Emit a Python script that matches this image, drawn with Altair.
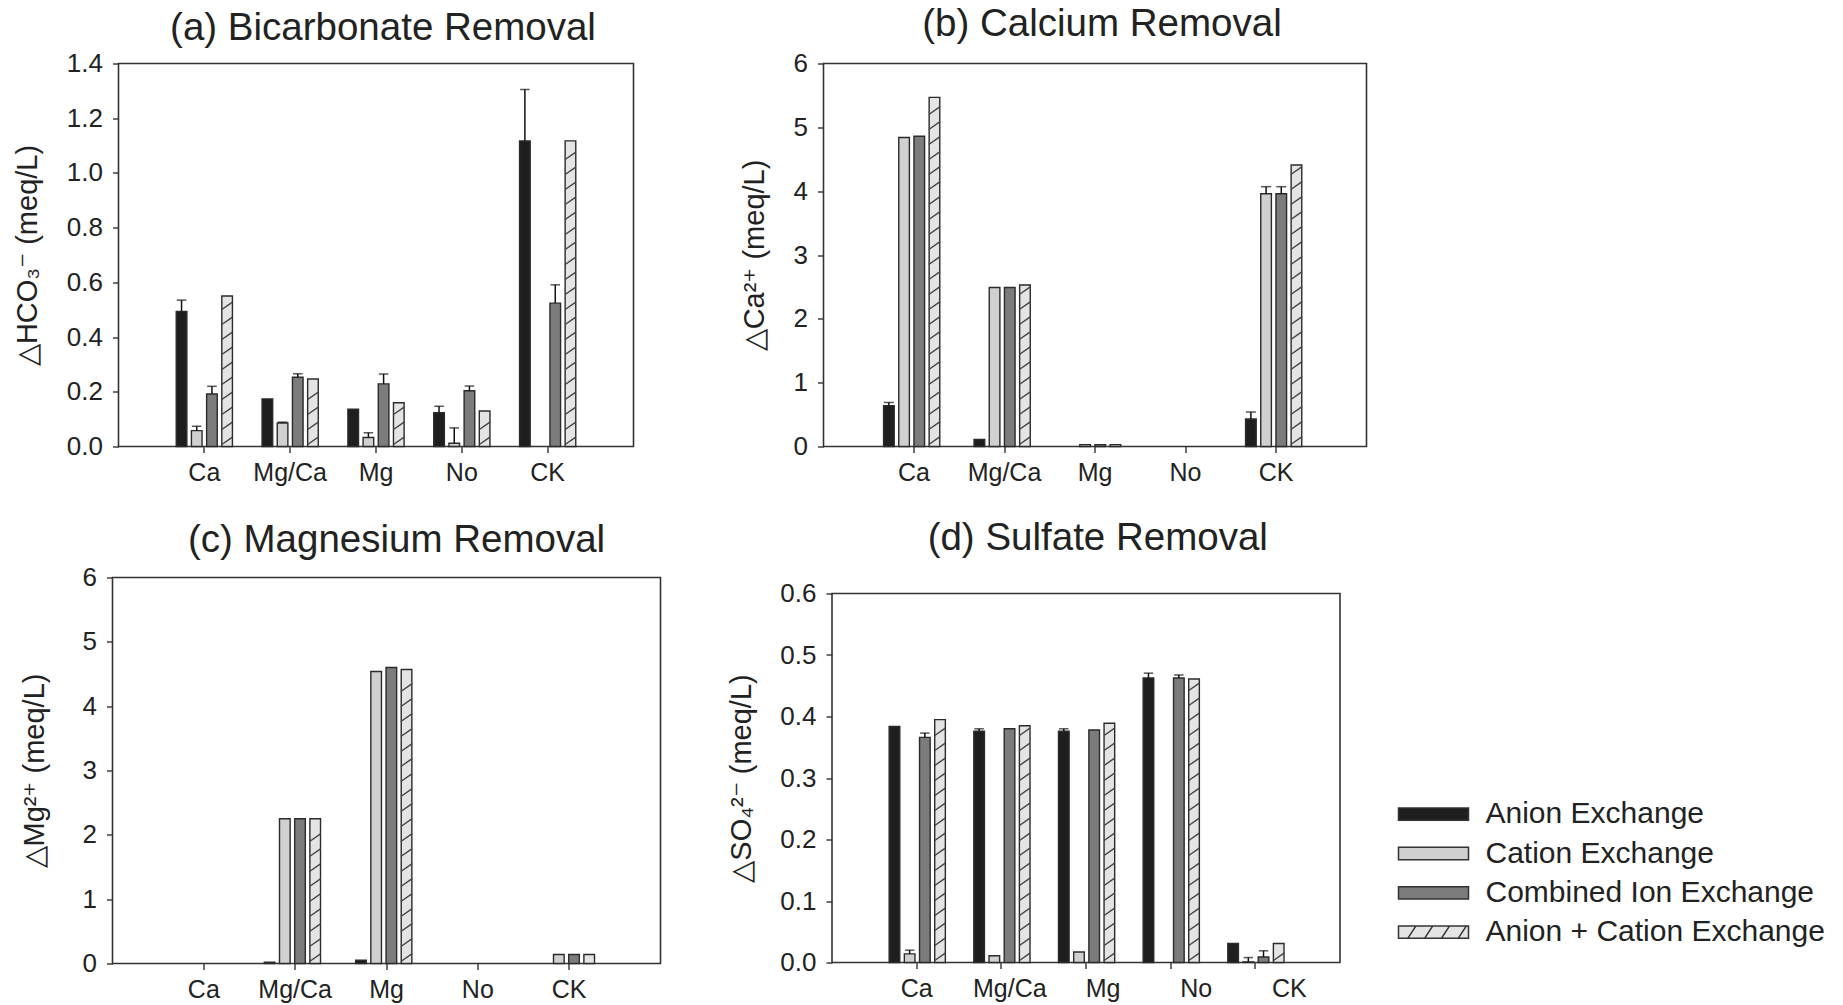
import altair as alt
import pandas as pd

# ---- categories -------------------------------------------------------------
sites = ["Ca", "Mg/Ca", "Mg", "No", "CK"]
treatments = [
    "Anion Exchange",
    "Cation Exchange",
    "Combined Ion Exchange",
    "Anion + Cation Exchange",
]
fills = ["#1e1e1e", "#d0d0d0", "#7c7c7c", "#e4e4e4"]

# ---- (a) bicarbonate removal, meq/L ----------------------------------------
hco3_anion = [0.494, 0.174, 0.136, 0.124, 1.117]
hco3_anion_err = [0.041, 0.0, 0.0, 0.023, 0.188]
hco3_cation = [0.058, 0.086, 0.033, 0.012, 0.0]
hco3_cation_err = [0.016, 0.003, 0.017, 0.056, 0.0]
hco3_combined = [0.192, 0.253, 0.229, 0.204, 0.524]
hco3_combined_err = [0.028, 0.013, 0.036, 0.017, 0.067]
hco3_both = [0.55, 0.247, 0.16, 0.13, 1.117]

# ---- (b) calcium removal ----------------------------------------------------
ca_anion = [0.64, 0.11, 0.0, 0.0, 0.43]
ca_anion_err = [0.05, 0.0, 0.0, 0.0, 0.11]
ca_cation = [4.84, 2.49, 0.03, 0.0, 3.96]
ca_cation_err = [0.0, 0.0, 0.0, 0.0, 0.11]
ca_combined = [4.86, 2.49, 0.03, 0.0, 3.96]
ca_combined_err = [0.0, 0.0, 0.0, 0.0, 0.11]
ca_both = [5.47, 2.53, 0.03, 0.0, 4.41]

# ---- (c) magnesium removal --------------------------------------------------
mg_anion = [0.0, 0.02, 0.05, 0.0, 0.0]
mg_cation = [0.0, 2.25, 4.54, 0.0, 0.14]
mg_combined = [0.0, 2.25, 4.60, 0.0, 0.14]
mg_both = [0.0, 2.25, 4.57, 0.0, 0.14]
no_err = [0.0, 0.0, 0.0, 0.0, 0.0]

# ---- (d) sulfate removal ----------------------------------------------------
so4_anion = [0.384, 0.376, 0.376, 0.4625, 0.031]
so4_anion_err = [0.0, 0.004, 0.004, 0.008, 0.0]
so4_cation = [0.014, 0.011, 0.017, 0.0, 0.001]
so4_cation_err = [0.006, 0.0, 0.0, 0.0, 0.007]
so4_combined = [0.366, 0.38, 0.378, 0.4625, 0.009]
so4_combined_err = [0.007, 0.0, 0.0, 0.005, 0.010]
so4_both = [0.395, 0.385, 0.389, 0.461, 0.031]

FONT = "Liberation Sans"
INK = "#222222"
HATCH_LINE = "M-1,0.7L1,-0.7"
KEY_RECT = "M-1,-0.176H1V0.176H-1Z"
KEY_HATCH = KEY_RECT + "".join(
    f"M{c - 0.115:.3f},0.176L{c + 0.115:.3f},-0.176" for c in (-0.62, -0.14, 0.34, 0.82)
)
NO_VIEW = alt.ViewBackground(stroke="transparent", strokeWidth=0)


def table(values, errors):
    rows = []
    for t, vals, errs in zip(treatments, values, errors):
        for s, v, e in zip(sites, vals, errs):
            rows.append({"site": s, "treatment": t, "value": v, "err": e, "top": v + e})
    return pd.DataFrame(rows)


def hatch_table(df, px_per_unit, spacing_px, half_rise_px):
    rows = []
    for r in df[df.treatment == treatments[3]].itertuples():
        bar_px = r.value * px_per_unit
        y = half_rise_px + 2
        while y + half_rise_px <= bar_px - 1:
            rows.append({"site": r.site, "treatment": r.treatment, "hy": y / px_per_unit})
            y += spacing_px
    return pd.DataFrame(rows, columns=["site", "treatment", "hy"])


color_enc = alt.Color(
    "treatment:N", sort=treatments,
    scale=alt.Scale(domain=treatments, range=fills), legend=None,
)


def panel(df, title, ytitle, ymax, yticks, yfmt, w, h, x_in=0.0, y_in=0.0,
          title_offset=6, title_dx=0, ytitle_pad=18, label_shift=0.0):
    step = w / 6.0
    bar_w = step * 0.7 / 5.65

    x_axis_kw = dict(
        title=None, labelAngle=0, labelFontSize=25, labelColor=INK, labelFont=FONT,
        tickSize=6, tickColor="#333333", tickWidth=1.4, domain=False, labelPadding=8,
    )
    if label_shift:
        x_axis_kw["labelOffset"] = {
            "condition": [
                {"test": f"datum.value === '{s}'", "value": label_shift * i}
                for i, s in enumerate(sites) if i > 0
            ],
            "value": 0,
        }
    x_enc = alt.X(
        "site:N", sort=sites,
        scale=alt.Scale(domain=sites, range=[x_in, x_in + w], paddingInner=0, paddingOuter=0.5),
        axis=alt.Axis(**x_axis_kw),
    )
    xo_enc = alt.XOffset(
        "treatment:N", sort=treatments,
        scale=alt.Scale(domain=treatments, paddingInner=0.3, paddingOuter=0.975),
    )
    y_axis = alt.Axis(
        title=ytitle, values=yticks, format=yfmt, labelFontSize=26, labelColor=INK,
        labelFont=FONT, tickSize=6, tickColor="#333333", tickWidth=1.4, domain=False,
        grid=False, offset=-x_in, labelPadding=10, titleFontSize=29, titleFont=FONT,
        titleFontWeight="normal", titleColor=INK, titlePadding=ytitle_pad,
    )
    y_scale = alt.Scale(domain=[0, ymax], range=[y_in + h, y_in], nice=False, zero=False)

    def y_enc(field):
        return alt.Y(f"{field}:Q", scale=y_scale, axis=y_axis)

    frame = alt.Chart(pd.DataFrame({"k": [0]})).mark_rect(
        filled=False, stroke="#333333", strokeWidth=1.6
    ).encode(
        x=alt.value(x_in), x2=alt.value(x_in + w), y=alt.value(y_in), y2=alt.value(y_in + h)
    )
    bars = alt.Chart(df[df.value > 0]).mark_bar(stroke="#2b2b2b", strokeWidth=1.4).encode(
        x=x_enc, xOffset=xo_enc, y=y_enc("value"), color=color_enc
    )
    hatch = alt.Chart(hatch_table(df, h / ymax, 15, 0.35 * bar_w)).mark_point(
        shape=HATCH_LINE, filled=False, stroke="#444444", strokeWidth=1.4,
        size=bar_w ** 2, opacity=1,
    ).encode(x=x_enc, xOffset=xo_enc, y=y_enc("hy"))
    errs = df[df.err > 0]
    whisker = alt.Chart(errs).mark_rule(color="#111111", strokeWidth=1.5).encode(
        x=x_enc, xOffset=xo_enc, y=y_enc("value"), y2="top:Q"
    )
    cap = alt.Chart(errs).mark_tick(color="#111111", thickness=1.5, size=bar_w * 0.9).encode(
        x=x_enc, xOffset=xo_enc, y=y_enc("top")
    )
    body = alt.layer(frame, bars, hatch, whisker, cap).properties(view=NO_VIEW)
    head = alt.TitleParams(
        title, fontSize=38.5, fontWeight="normal", font=FONT, color=INK,
        offset=title_offset, dx=title_dx, anchor="middle", frame="group",
    )
    return body, head, x_in + w, y_in + h


df_a = table([hco3_anion, hco3_cation, hco3_combined, hco3_both],
             [hco3_anion_err, hco3_cation_err, hco3_combined_err, no_err])
df_b = table([ca_anion, ca_cation, ca_combined, ca_both],
             [ca_anion_err, ca_cation_err, ca_combined_err, no_err])
df_c = table([mg_anion, mg_cation, mg_combined, mg_both],
             [no_err, no_err, no_err, no_err])
df_d = table([so4_anion, so4_cation, so4_combined, so4_both],
             [so4_anion_err, so4_cation_err, so4_combined_err, no_err])

body_a, head_a, wa, ha = panel(
    df_a, "(a) Bicarbonate Removal", "△HCO₃⁻ (meq/L)", 1.4,
    [0.0, 0.2, 0.4, 0.6, 0.8, 1.0, 1.2, 1.4], ".1f", 515, 383, x_in=6,
    title_offset=2.5, title_dx=10, ytitle_pad=24,
)
body_b, head_b, wb, hb = panel(
    df_b, "(b) Calcium Removal", "△Ca²⁺ (meq/L)", 6, [0, 1, 2, 3, 4, 5, 6], "d",
    543, 383, title_offset=6, title_dx=7, ytitle_pad=24,
)
body_c, head_c, wc, hc = panel(
    df_c, "(c) Magnesium Removal", "△Mg²⁺ (meq/L)", 6, [0, 1, 2, 3, 4, 5, 6], "d",
    548, 386, title_offset=4.5, title_dx=10, ytitle_pad=33,
)
body_d, head_d, wd, hd = panel(
    df_d, "(d) Sulfate Removal", "△SO₄²⁻ (meq/L)", 0.6,
    [0.0, 0.1, 0.2, 0.3, 0.4, 0.5, 0.6], ".1f", 508, 369, x_in=8.5, y_in=16,
    title_offset=19.5, title_dx=16, ytitle_pad=23, label_shift=8.5,
)

# key drawn beside the sulfate panel
key_df = pd.DataFrame({"treatment": treatments})
key_y = alt.Y(
    "treatment:N", sort=treatments, axis=None,
    scale=alt.Scale(domain=treatments, range=[236.7, 354.7], padding=0),
)
key_symbols = alt.Chart(key_df).mark_point(
    filled=True, size=4900, stroke="#333333", strokeWidth=1.5, opacity=1
).encode(
    x=alt.value(610), y=key_y, color=color_enc,
    shape=alt.Shape("treatment:N", sort=treatments, legend=None,
                    scale=alt.Scale(domain=treatments,
                                    range=[KEY_RECT, KEY_RECT, KEY_RECT, KEY_HATCH])),
)
key_labels = alt.Chart(key_df).mark_text(
    align="left", baseline="middle", fontSize=30, font=FONT, color=INK
).encode(x=alt.value(662), y=key_y, text="treatment:N")
key = alt.layer(key_symbols, key_labels).properties(view=NO_VIEW)

chart_a = body_a.properties(width=wa, height=ha, title=head_a)
chart_b = body_b.properties(width=wb, height=hb, title=head_b)
chart_c = body_c.properties(width=wc, height=hc, title=head_c)
chart_d = alt.layer(body_d, key).resolve_scale(y="independent").properties(
    width=wd, height=hd, title=head_d, view=NO_VIEW
)

chart = alt.concat(
    chart_a, chart_b, chart_c, chart_d,
    columns=2, spacing={"row": 131, "column": 163}, bounds="flush",
).properties(
    padding={"left": 12.5, "top": 4.5, "right": 5, "bottom": 5}, background="white"
).configure_view(stroke="transparent", strokeWidth=0).configure(font=FONT)

chart.save("out.html", embed_options={"renderer": "svg", "actions": False})
